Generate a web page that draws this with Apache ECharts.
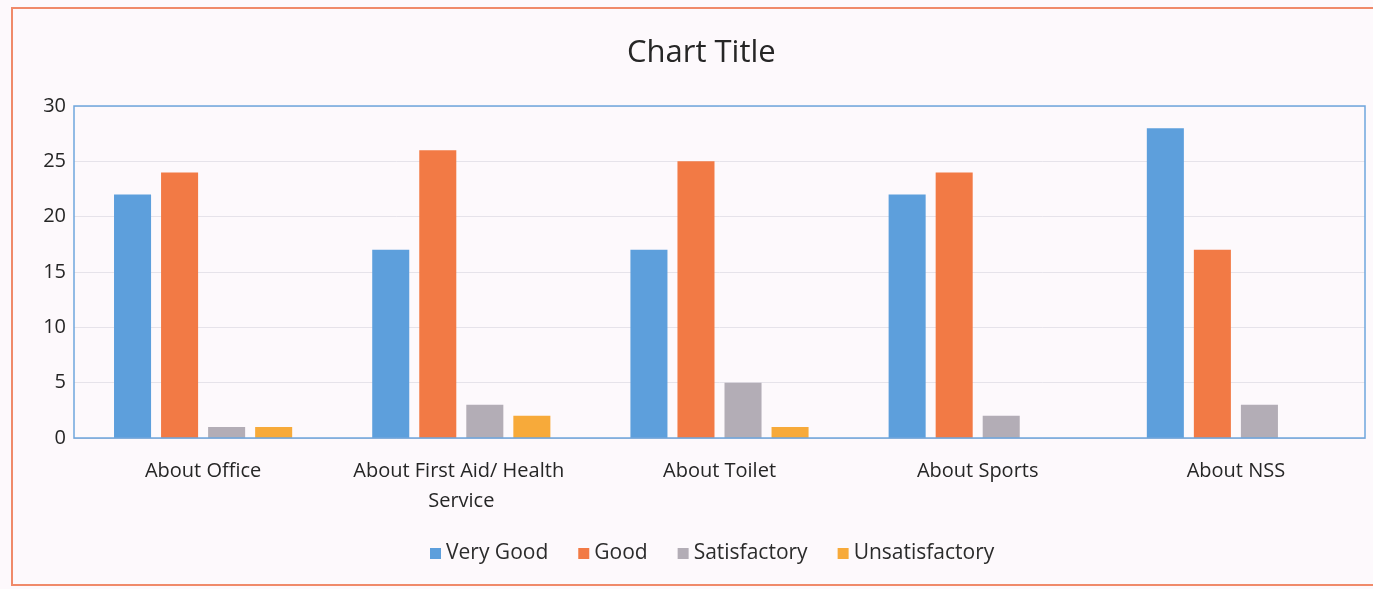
<!DOCTYPE html>
<html>
<head>
<meta charset="utf-8">
<script src="https://cdn.jsdelivr.net/npm/echarts@6/dist/echarts.min.js"></script>
<style>
html,body{margin:0;padding:0;background:#fdf9fc;}
#chart{width:1373px;height:589px;}
</style>
</head>
<body>
<div id="chart"></div>
<script>
const categories = ["About Office", "About First Aid/ Health Service", "About Toilet", "About Sports", "About NSS"];
const veryGood = [22, 17, 17, 22, 28];
const good = [24, 26, 25, 24, 17];
const satisfactory = [1, 3, 5, 2, 3];
const unsatisfactory = [1, 2, 1, 0, 0];
const seriesNames = ["Very Good", "Good", "Satisfactory", "Unsatisfactory"];
const colors = ["#5d9fdc", "#f27a45", "#b3adb6", "#f7aa3a"];

const chart = echarts.init(document.getElementById('chart'));
const font = "'Open Sans', 'Noto Sans', sans-serif";
const values = [veryGood, good, satisfactory, unsatisfactory];
chart.setOption({
  backgroundColor: '#fdf9fc',
  animation: false,
  title: {
    text: 'Chart Title', left: 622, top: 33,
    textStyle: {fontFamily: font, fontSize: 31, fontWeight: 'normal', color: '#262626'}
  },
  legend: {
    bottom: 20, left: 425, itemWidth: 11, itemHeight: 11, itemGap: 30,
    icon: 'rect',
    textStyle: {fontFamily: font, fontSize: 21, color: '#2b2b2b', padding: [0, 0, 0, 0]},
    data: seriesNames
  },
  graphic: [{
    type: 'rect', shape: {x: 12, y: 8, width: 1380, height: 577},
    style: {fill: 'none', stroke: '#f08a6a', lineWidth: 2}, silent: true
  }, {
    type: 'rect', shape: {x: 74, y: 106, width: 1291, height: 332},
    style: {fill: 'none', stroke: '#6fa6dd', lineWidth: 1.5}, silent: true, z: 10
  }],
  grid: {left: 74, right: 8, top: 106, bottom: 151},
  xAxis: {
    type: 'category', data: categories,
    axisTick: {show: false},
    axisLine: {lineStyle: {color: '#c9c6d6'}},
    axisLabel: {fontFamily: font, fontSize: 20, color: '#262626', margin: 18, width: 250, overflow: 'break', lineHeight: 30, interval: 0}
  },
  yAxis: {
    type: 'value', min: 0, max: 30, interval: 5,
    axisLine: {show: false}, axisTick: {show: false},
    splitLine: {lineStyle: {color: '#e6e3ea'}},
    axisLabel: {fontFamily: font, fontSize: 20, color: '#262626', margin: 8}
  },
  series: seriesNames.map((n, i) => ({
    name: n, type: 'bar', data: values[i],
    barGap: '27%', barCategoryGap: '31%',
    itemStyle: {color: colors[i]}
  }))
});
</script>
</body>
</html>
